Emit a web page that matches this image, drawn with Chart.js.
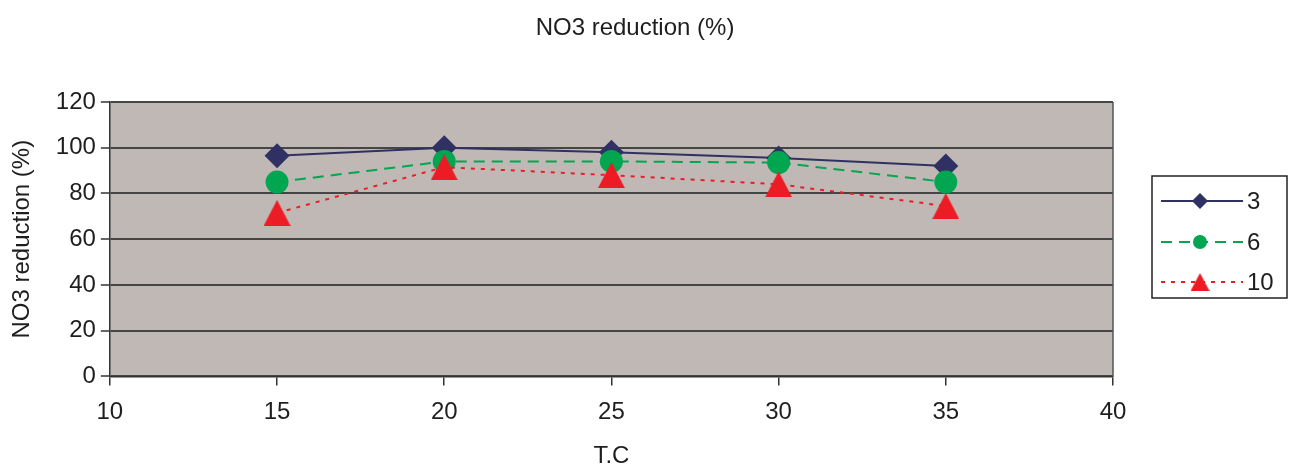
<!DOCTYPE html>
<html>
<head>
<meta charset="utf-8">
<script src="https://cdn.jsdelivr.net/npm/chart.js@4.4.3/dist/chart.umd.min.js"></script>
<style>
  html, body { margin: 0; padding: 0; background: #fff; }
  #wrap { width: 1295px; height: 471px; position: relative; }
</style>
</head>
<body>
<div id="wrap"><canvas id="chart"></canvas></div>
<script>
// values
const temps = [15, 20, 25, 30, 35];
const series3 = [96.5, 100, 98, 95.5, 92];
const series6 = [85, 94, 94, 93.5, 85];
const series10 = [71.5, 91.5, 88, 84, 74.5];
const seriesNames = ['3', '6', '10'];
const yTicks = [0, 20, 40, 60, 80, 100, 120];
const xTicks = [10, 15, 20, 25, 30, 35, 40];
const chartTitle = 'NO3 reduction (%)';

const FONT = '"Liberation Sans", Arial, sans-serif';
const TEXT = '#1e1e1e';
const NAVY = '#2f3163';
const GREEN = '#00a650';
const RED = '#ed1c24';

// triangle marker, centred on its bounding box like the original
function triangleImage(w, h) {
    const c = document.createElement('canvas');
    c.width = w; c.height = h;
    const g = c.getContext('2d');
    g.fillStyle = RED;
    g.beginPath();
    g.moveTo(w / 2, 0);
    g.lineTo(w, h);
    g.lineTo(0, h);
    g.closePath();
    g.fill();
    return c;
}
const triBig = triangleImage(27, 26);
const triSmall = triangleImage(19, 18);

const plotBackground = {
    id: 'plotBackground',
    beforeDraw(chart) {
        const { ctx, chartArea: a } = chart;
        ctx.save();
        ctx.fillStyle = '#c0b8b5';
        ctx.fillRect(a.left, a.top, a.right - a.left, a.bottom - a.top);
        ctx.restore();
    },
    beforeDatasetsDraw(chart) {
        const { ctx, chartArea: a } = chart;
        ctx.save();
        ctx.strokeStyle = '#555';
        ctx.lineWidth = 1.5;
        ctx.beginPath();
        ctx.moveTo(a.right, a.top);
        ctx.lineTo(a.right, a.bottom);
        ctx.stroke();
        ctx.restore();
    }
};

// chart title (centred on the whole picture, not the plot) and legend box
const titleAndLegend = {
    id: 'titleAndLegend',
    afterDraw(chart) {
        const ctx = chart.ctx;
        ctx.save();
        ctx.fillStyle = TEXT;
        ctx.font = '24px ' + FONT;
        ctx.textAlign = 'center';
        ctx.textBaseline = 'middle';
        ctx.fillText(chartTitle, 635, 28);

        const x0 = 1152, y0 = 176, w = 135, h = 122;
        ctx.strokeStyle = '#222';
        ctx.lineWidth = 1.5;
        ctx.strokeRect(x0, y0, w, h);
        const rows = [201, 242, 282];
        const legendMarkers = [
            { pointStyle: 'rectRot', radius: 8 },
            { pointStyle: 'circle', radius: 7 },
            { pointStyle: triSmall, radius: 9 }
        ];
        chart.data.datasets.forEach((ds, i) => {
            const y = rows[i];
            ctx.strokeStyle = ds.borderColor;
            ctx.lineWidth = ds.borderWidth;
            ctx.setLineDash(ds.borderDash || []);
            ctx.beginPath();
            ctx.moveTo(1161, y);
            ctx.lineTo(1243, y);
            ctx.stroke();
            ctx.setLineDash([]);
            ctx.fillStyle = ds.pointBackgroundColor;
            Chart.helpers.drawPoint(ctx, { ...legendMarkers[i], rotation: 0, borderWidth: 0 }, 1200, y);
            ctx.fillStyle = TEXT;
            ctx.font = '24px ' + FONT;
            ctx.textBaseline = 'middle';
            ctx.textAlign = 'left';
            ctx.fillText(ds.label, 1247, y + 1);
        });
        ctx.restore();
    }
};

function toPoints(vals) {
    return temps.map((t, i) => ({ x: t, y: vals[i] }));
}

new Chart(document.getElementById('chart'), {
    type: 'line',
    data: {
        datasets: [
            {
                label: seriesNames[0],
                data: toPoints(series3),
                borderColor: NAVY,
                borderWidth: 2,
                pointStyle: 'rectRot',
                pointRadius: 12.5,
                pointBackgroundColor: NAVY,
                pointBorderWidth: 0,
                order: 3
            },
            {
                label: seriesNames[1],
                data: toPoints(series6),
                borderColor: GREEN,
                borderWidth: 2,
                borderDash: [11, 7],
                pointStyle: 'circle',
                pointRadius: 11.5,
                pointBackgroundColor: GREEN,
                pointBorderWidth: 0,
                order: 2
            },
            {
                label: seriesNames[2],
                data: toPoints(series10),
                borderColor: RED,
                borderWidth: 2,
                borderDash: [4, 6],
                pointStyle: triBig,
                pointRadius: 13,
                pointBackgroundColor: RED,
                pointBorderWidth: 0,
                order: 1
            }
        ]
    },
    options: {
        responsive: true,
        maintainAspectRatio: false,
        animation: false,
        layout: { padding: { left: 0, right: 182, top: 102, bottom: 0 } },
        elements: { line: { tension: 0 } },
        scales: {
            x: {
                type: 'linear',
                min: 10,
                max: 40,
                afterBuildTicks(scale) { scale.ticks = xTicks.map(v => ({ value: v })); },
                grid: { drawOnChartArea: false, tickLength: 9, color: '#333', lineWidth: 1.5 },
                border: { display: true, color: '#333', width: 1.5 },
                ticks: { color: TEXT, font: { family: FONT, size: 24 }, padding: 12.5, maxRotation: 0 },
                title: {
                    display: true,
                    text: 'T.C',
                    color: TEXT,
                    font: { family: FONT, size: 24 },
                    padding: { top: 3, bottom: 0 }
                }
            },
            y: {
                min: 0,
                max: 120,
                afterBuildTicks(scale) { scale.ticks = yTicks.map(v => ({ value: v })); },
                grid: { color: '#454545', lineWidth: 2, tickLength: 9, tickColor: '#333', tickWidth: 1.5 },
                border: { display: true, color: '#333', width: 1.5 },
                ticks: { color: TEXT, font: { family: FONT, size: 24 }, padding: 5 },
                title: {
                    display: true,
                    text: 'NO3 reduction (%)',
                    color: TEXT,
                    font: { family: FONT, size: 24 },
                    padding: { top: 7.5, bottom: 14.5 }
                }
            }
        },
        plugins: {
            legend: { display: false },
            tooltip: { enabled: false },
            title: { display: false }
        }
    },
    plugins: [plotBackground, titleAndLegend]
});
</script>
</body>
</html>
